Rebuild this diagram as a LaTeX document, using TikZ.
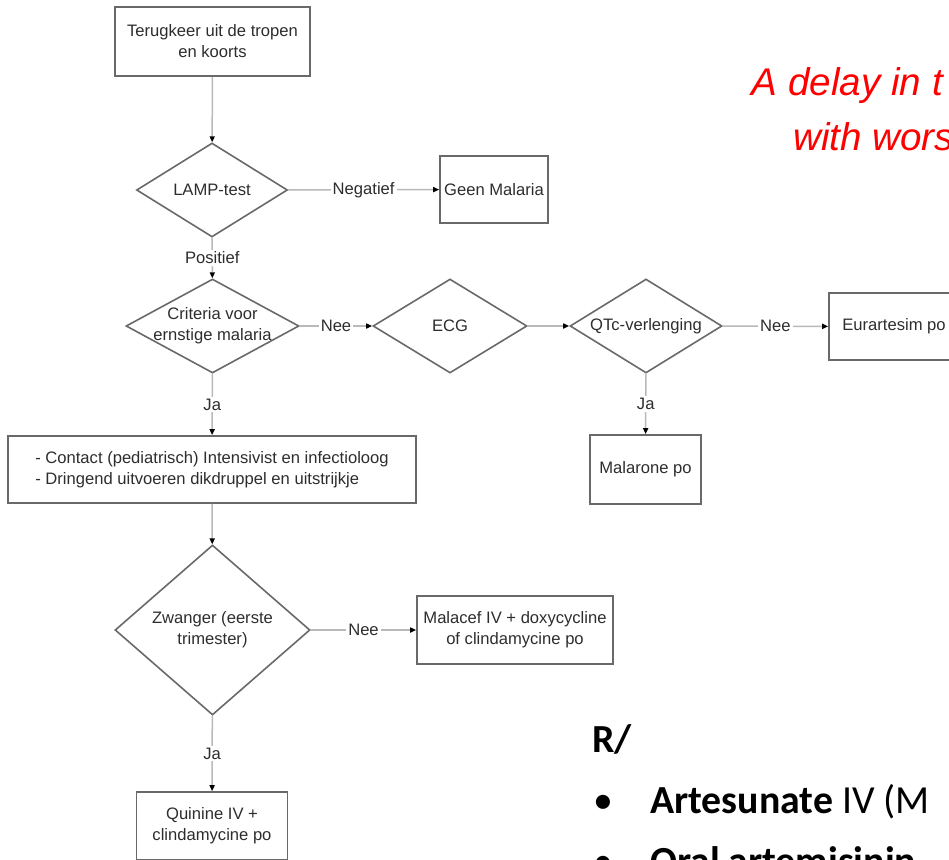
\documentclass[tikz,border=0pt]{standalone}
\usepackage{fontspec}
\setmainfont{Liberation Sans}
\newfontfamily\slidefont{Carlito}
\usepackage{xcolor}
\usetikzlibrary{shapes.geometric, arrows.meta, positioning}

\definecolor{boxline}{RGB}{105,105,105}
\definecolor{flowline}{RGB}{185,185,185}
\definecolor{flowtext}{RGB}{45,45,45}
\definecolor{warnred}{RGB}{255,0,0}

\begin{document}
\begin{tikzpicture}[x=1pt, y=-1pt,
    >={Triangle[length=6pt, width=5pt, color=black]},
    every node/.style={font=\fontsize{16.6}{21}\selectfont, text=flowtext},
    stepbox/.style={draw=boxline, line width=1.6pt, rectangle, inner sep=0pt, align=center},
    decision/.style={draw=boxline, line width=1.6pt, diamond, inner sep=0pt},
    flow/.style={draw=flowline, line width=1.5pt, ->},
    answer/.style={fill=white, inner sep=2pt},
    slide/.style={anchor=base west, inner sep=0pt, text=black, font=\fontsize{39.8}{46}\selectfont\slidefont}]

    \useasboundingbox (0,0) rectangle (949,859);
    \clip (0,0) rectangle (949,859);

    % =================================================================
    % FLOWCHART: NODES
    % =================================================================
    \node[stepbox, minimum width=195pt, minimum height=69pt] (start) at (212.5,41.5)
        {Terugkeer uit de tropen\\en koorts};
    \node[decision, minimum width=151pt, minimum height=94pt,
        label={[name=lamp-txt]center:LAMP-test}] (lamp) at (212,190) {};
    \node[stepbox, minimum width=108pt, minimum height=67pt] (geen) at (494,189.5) {Geen Malaria};

    \node[decision, minimum width=173pt, minimum height=94pt,
        label={[name=crit-txt, align=center]center:Criteria voor\\ernstige malaria}] (crit) at (212.5,326) {};
    \node[decision, minimum width=154pt, minimum height=94pt,
        label={[name=ecg-txt]center:ECG}] (ecg) at (450,326) {};
    \node[decision, minimum width=152pt, minimum height=94pt,
        label={[name=qtc-txt]center:QTc-verlenging}] (qtc) at (646,326) {};
    \node[stepbox, minimum width=130pt, minimum height=67pt] (eurart) at (894,326.5) {Eurartesim po};
    \node[stepbox, minimum width=111pt, minimum height=69pt] (malarone) at (645.5,469.5) {Malarone po};

    \node[stepbox, minimum width=408pt, minimum height=67pt, align=left] (contact) at (212,469.5)
        {- Contact (pediatrisch) Intensivist en infectioloog\\- Dringend uitvoeren dikdruppel en uitstrijkje};

    \node[decision, minimum width=195pt, minimum height=170pt,
        label={[name=zw-txt, align=center]center:Zwanger (eerste\\trimester)}] (zwanger) at (212.5,630) {};
    \node[stepbox, minimum width=196pt, minimum height=68pt] (malacef) at (515,630)
        {Malacef IV + doxycycline\\of clindamycine po};
    \node[stepbox, minimum width=151pt, minimum height=68pt] (quinine) at (212,826)
        {Quinine IV +\\clindamycine po};

    % =================================================================
    % FLOWCHART: CONNECTORS
    % =================================================================
    \draw[flow] (start) -- (lamp);
    \draw[flow] (lamp) -- node[answer] {Negatief} (geen);
    \draw[flow] (lamp) -- node[answer] {Positief} (crit);
    \draw[flow] (crit) -- node[answer] {Nee} (ecg);
    \draw[flow] (ecg) -- (qtc);
    \draw[flow] (qtc) -- node[answer] {Nee} (eurart);
    \draw[flow] (qtc) -- node[answer] {Ja} (malarone);
    \draw[flow] (crit) -- node[answer] {Ja} (contact);
    \draw[flow] (contact) -- (zwanger);
    \draw[flow] (zwanger) -- node[answer] {Nee} (malacef);
    \draw[flow] (zwanger) -- node[answer] {Ja} (quinine);

    % =================================================================
    % SLIDE TEXT
    % =================================================================
    \node[anchor=base west, inner sep=0pt, text=warnred, font=\fontsize{38.6}{45}\selectfont\itshape]
        (delay) at (751.7,95) {A delay in t};
    \node[anchor=base west, inner sep=0pt, text=warnred, font=\fontsize{38.6}{45}\selectfont\itshape]
        (worse) at (793,150) {with wors};

    \node[slide, font=\fontsize{39.8}{46}\selectfont\slidefont\bfseries] (rx) at (592,752) {R/};
    \foreach \y/\name/\txt in {813/art/{\textbf{Artesunate} IV (M}, 874/oral/{\textbf{Oral artemisinin}}} {
        \node[slide] (dot-\name) at (593,\y) {•};
        \node[slide] (\name) at (650,\y) {\txt};
    }

\end{tikzpicture}
\end{document}
